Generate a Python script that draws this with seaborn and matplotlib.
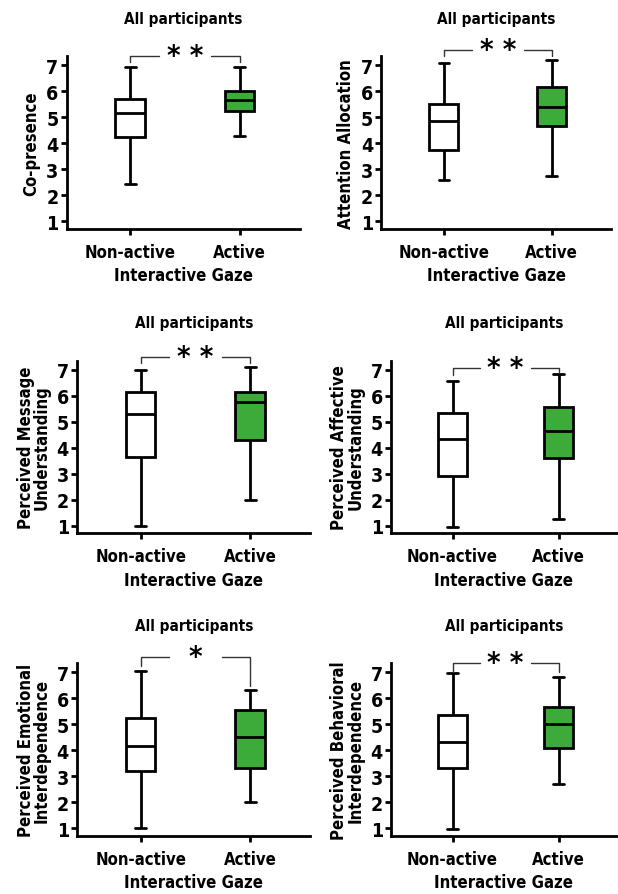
import pandas as pd
import matplotlib.pyplot as plt
import seaborn as sns

# five-number summaries: min, q1, median, q3, max
categories = ['Non-active', 'Active']
measures = ['Co-presence', 'Attention Allocation',
            'Perceived Message\nUnderstanding', 'Perceived Affective\nUnderstanding',
            'Perceived Emotional\nInterdependence', 'Perceived Behavioral\nInterdependence']
nonactive = [[2.45, 4.25, 5.15, 5.70, 6.95],
             [2.60, 3.75, 4.85, 5.50, 7.10],
             [1.00, 3.65, 5.30, 6.15, 7.00],
             [0.95, 2.90, 4.35, 5.35, 6.55],
             [1.00, 3.20, 4.15, 5.25, 7.05],
             [0.95, 3.30, 4.30, 5.35, 6.95]]
active = [[4.30, 5.25, 5.65, 6.00, 6.95],
          [2.75, 4.65, 5.40, 6.15, 7.20],
          [2.00, 4.30, 5.75, 6.15, 7.10],
          [1.25, 3.60, 4.65, 5.55, 6.85],
          [2.00, 3.30, 4.50, 5.55, 6.30],
          [2.70, 4.10, 5.00, 5.65, 6.80]]
stars = ['* *', '* *', '* *', '* *', '*', '* *']

rows = []
for m, na, a in zip(measures, nonactive, active):
    for v in na:
        rows.append((m, 'Non-active', v))
    for v in a:
        rows.append((m, 'Active', v))
df = pd.DataFrame(rows, columns=['measure', 'gaze', 'score'])

sns.set_style('ticks', {'axes.edgecolor': 'black', 'text.color': 'black',
                        'xtick.color': 'black', 'ytick.color': 'black',
                        'axes.labelcolor': 'black'})
plt.rcParams['font.family'] = ['DejaVu Sans']
plt.rcParams['font.stretch'] = 'condensed'
plt.rcParams['font.weight'] = 'bold'
plt.rcParams['axes.labelweight'] = 'bold'
plt.rcParams['axes.titleweight'] = 'bold'

colors = {'Non-active': 'white', 'Active': '#3cab3a'}

# axes rectangles and bracket heights (y, left end, right end)
rects = [[0.108, 0.743, 0.377, 0.193], [0.617, 0.743, 0.372, 0.193],
         [0.125, 0.403, 0.377, 0.193], [0.633, 0.403, 0.365, 0.193],
         [0.125, 0.065, 0.377, 0.193], [0.633, 0.065, 0.365, 0.193]]
brackets = [(7.35, 7.12, 7.12), (7.6, 7.35, 7.35), (7.5, 7.25, 7.25),
            (7.05, 6.8, 6.9), (7.58, 7.23, 6.45), (7.35, 7.0, 7.0)]

fig = plt.figure(figsize=(6.18, 8.95), dpi=100)
for i, m in enumerate(measures):
    ax = fig.add_axes(rects[i])
    sub = df[df['measure'] == m]
    sns.boxplot(data=sub, x='gaze', y='score', hue='gaze', order=categories,
                hue_order=categories, palette=colors, saturation=1, whis=(0, 100),
                width=0.27, linewidth=2, linecolor='black', legend=False, ax=ax,
                capwidths=0.1)
    ax.set_ylim(0.7, 7.35)
    ax.set_xlim(-0.58, 1.55)
    ax.set_yticks(range(1, 8))
    sns.despine(ax=ax)
    for s in ['left', 'bottom']:
        ax.spines[s].set_linewidth(2)
    ax.tick_params(axis='both', width=2, length=4)
    ax.tick_params(axis='y', labelsize=14, pad=2)
    ax.tick_params(axis='x', labelsize=12, pad=6)
    ax.set_ylabel(m, fontsize=12, labelpad=4, linespacing=0.9)
    ax.set_xlabel('Interactive Gaze', fontsize=12, labelpad=4)
    ax.set_title('All participants', fontsize=11, pad=24)

    y, yl, yr = brackets[i]
    ax.plot([0, 0, 0.26], [yl, y, y], color='#333333', lw=1, clip_on=False)
    ax.plot([0.74, 1, 1], [y, y, yr], color='#333333', lw=1, clip_on=False)
    ax.text(0.5, y, stars[i], ha='center', va='center', fontsize=21,
            fontweight='bold', clip_on=False)

plt.savefig('out.png', dpi=100)
